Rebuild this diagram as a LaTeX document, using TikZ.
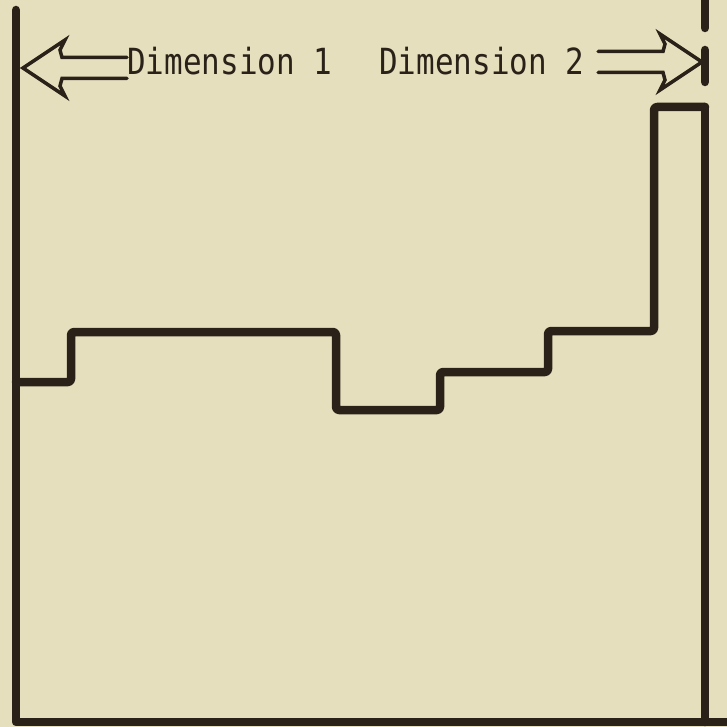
\documentclass[tikz,border=0pt]{standalone}
\usepackage{fontspec}
\usepackage{xcolor}
\newfontfamily\dimfont[FakeStretch=0.86]{DejaVu Sans Mono}
\definecolor{paper}{RGB}{230,223,190}
\definecolor{ink}{RGB}{42,34,24}
\tikzset{
  wall/.style={draw=ink, line width=8.5pt, line cap=round, line join=round},
  arrowline/.style={draw=ink, line width=3.5pt, line cap=round, line join=miter},
  dimlabel/.style={anchor=base west, inner sep=0pt, text=ink, font=\dimfont\fontsize{36}{40}\selectfont},
  hollow arrow/.pic={
    \draw[arrowline] (104,-10.5) -- (39,-10.5) -- (37,-18) -- (42,-28) -- (0,0)
      -- (42,28) -- (37,18) -- (39,10.5) -- (104,10.5);
  }
}

\begin{document}
\begin{tikzpicture}[x=1pt, y=-1pt]
  % Draw the paper
  \fill[paper] (0,0) rectangle (727,727);
  \useasboundingbox (0,0) rectangle (727,727);

  % Draw the box walls
  \draw[wall] (16,10) -- (16,722) -- (730,722);
  \draw[wall] (705,107) -- (705,722);
  \draw[wall] (705,0) -- (705,28);
  \draw[wall] (705,50) -- (705,82);

  % Draw the profile
  \draw[wall, rounded corners=3pt] (16,382) -- (71,382) -- (71,332) -- (336,332)
    -- (336,410) -- (440,410) -- (440,372) -- (548,372) -- (548,331)
    -- (654,331) -- (654,107) -- (705,107);

  % Labels and arrows
  \node[dimlabel] (dimA) at (127,75) {Dimension 1};
  \node[dimlabel] (dimB) at (379,75) {Dimension 2};
  \coordinate (tipA) at (23,68);
  \coordinate (tipB) at (702,62);
  \pic at (tipA) {hollow arrow};
  \pic[xscale=-1] at (tipB) {hollow arrow};
\end{tikzpicture}
\end{document}
